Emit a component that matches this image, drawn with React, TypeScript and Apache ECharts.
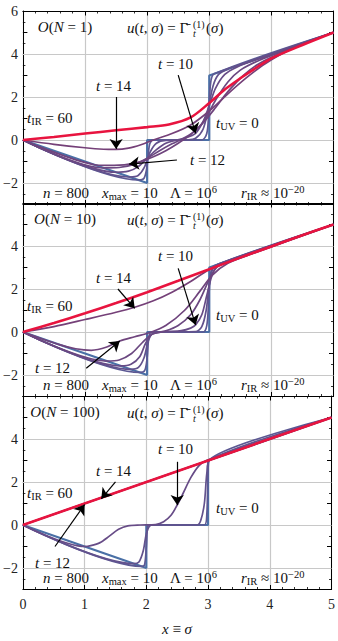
import React, { useEffect, useRef } from 'react';
import * as echarts from 'echarts';

// ---------------- data ----------------
const xMin = 0, xMax = 5, yMin = -3, yMax = 6;
const yGridValues = [-2, 0, 2, 4];
const panelN = ['1', '10', '100'];
const curveTimes = [0, 8, 9, 10, 11, 12, 14, 60];

// O(N=1)
const p1_t0 = [[0, 0], [2, -2], [2, 0], [3, 0], [3, 3], [5, 5]];
const p1_t8 = [[0, 0], [1.86, -1.86], [1.95, -1.78], [2.0, -1.2], [2.04, -0.2], [2.1, 0], [2.88, 0], [2.96, 0.3], [2.99, 1.2], [3.02, 2.6], [3.08, 3.08], [5, 5]];
const p1_t9 = [[0, 0], [1.72, -1.72], [1.85, -1.66], [1.95, -1.3], [2.05, -0.55], [2.15, -0.15], [2.3, -0.02], [2.65, 0], [2.78, 0.08], [2.9, 0.5], [2.98, 1.4], [3.06, 2.5], [3.15, 3.05], [3.3, 3.3], [3.6, 3.6], [5, 5]];
const p1_t10 = [[0, 0], [1.5, -1.5], [1.7, -1.45], [1.85, -1.25], [2.0, -0.85], [2.15, -0.45], [2.3, -0.15], [2.45, -0.02], [2.6, 0.08], [2.78, 0.31], [2.9, 0.85], [3.0, 1.6], [3.1, 2.4], [3.25, 3.05], [3.45, 3.4], [3.8, 3.78], [5, 5]];
const p1_t11 = [[0, 0], [1.3, -1.3], [1.55, -1.28], [1.8, -1.12], [2.0, -0.85], [2.2, -0.5], [2.4, -0.18], [2.6, 0.1], [2.8, 0.5], [2.95, 1.05], [3.1, 1.85], [3.3, 2.7], [3.5, 3.25], [3.8, 3.7], [4.2, 4.15], [5, 5]];
const p1_t12 = [[0, 0], [1.15, -1.15], [1.35, -1.18], [1.55, -1.17], [1.71, -1.12], [1.9, -1.0], [2.1, -0.78], [2.3, -0.5], [2.5, -0.15], [2.7, 0.25], [2.9, 0.8], [3.1, 1.5], [3.3, 2.25], [3.55, 3.0], [3.8, 3.55], [4.2, 4.1], [5, 5]];
const p1_t14 = [[0, 0], [0.5, -0.2], [1, -0.36], [1.3, -0.43], [1.5, -0.44], [1.7, -0.38], [1.9, -0.22], [2.1, 0.0], [2.4, 0.3], [2.7, 0.7], [3.0, 1.35], [3.3, 2.15], [3.6, 2.9], [3.9, 3.55], [4.3, 4.2], [5, 5]];
const p1_t60 = [[0, 0], [0.5, 0.14], [1, 0.3], [1.5, 0.45], [2, 0.6], [2.35, 0.72], [2.7, 1.05], [3, 1.72], [3.25, 2.35], [3.5, 2.87], [3.75, 3.35], [4, 3.8], [4.5, 4.42], [5, 5]];

// O(N=10)
const p2_t0 = [[0, 0], [2, -2], [2, 0], [3, 0], [3, 3], [5, 5]];
const p2_t8 = [[0, 0], [1.88, -1.88], [1.96, -1.8], [2.0, -1.2], [2.03, -0.2], [2.08, 0], [2.9, 0], [2.96, 0.3], [2.99, 1.4], [3.02, 2.7], [3.08, 3.08], [5, 5]];
const p2_t9 = [[0, 0], [1.74, -1.74], [1.86, -1.65], [1.95, -1.2], [2.02, -0.4], [2.1, -0.05], [2.25, 0], [2.78, 0.02], [2.88, 0.25], [2.95, 1.0], [3.0, 2.2], [3.06, 2.95], [3.2, 3.22], [5, 5]];
const p2_t10 = [[0, 0], [1.58, -1.58], [1.74, -1.5], [1.88, -1.15], [1.98, -0.5], [2.08, -0.1], [2.25, 0], [2.55, 0.06], [2.7, 0.18], [2.78, 0.33], [2.88, 0.8], [2.96, 1.7], [3.04, 2.6], [3.12, 3.05], [3.3, 3.3], [5, 5]];
const p2_t11 = [[0, 0], [1.35, -1.35], [1.55, -1.3], [1.75, -1.0], [1.92, -0.5], [2.08, -0.1], [2.3, 0.05], [2.5, 0.3], [2.7, 0.8], [2.85, 1.5], [3.0, 2.45], [3.12, 3.0], [3.3, 3.3], [5, 5]];
const p2_t12 = [[0, 0], [0.6, -0.6], [0.85, -0.78], [1.1, -0.85], [1.35, -0.7], [1.56, -0.42], [1.8, -0.22], [2.05, -0.02], [2.3, 0.3], [2.6, 1.0], [2.85, 1.9], [3.05, 2.65], [3.3, 3.2], [3.7, 3.65], [5, 5]];
const p2_t14 = [[0, 0], [0.5, 0.25], [1, 0.58], [1.5, 0.92], [1.8, 1.15], [2.1, 1.45], [2.4, 1.85], [2.7, 2.35], [3.0, 2.9], [3.5, 3.45], [4, 3.97], [5, 5]];
const p2_t60 = [[0, 0], [0.5, 0.42], [1, 0.87], [1.5, 1.35], [2, 1.85], [2.5, 2.38], [3, 2.92], [3.5, 3.46], [4, 3.98], [4.5, 4.5], [5, 5]];

// O(N=100)
const p3_t0 = [[0, 0], [2, -2], [2, 0], [3, 0], [3, 3], [5, 5]];
const p3_t8 = [[0, 0], [1.92, -1.92], [1.97, -1.86], [2.0, -1.0], [2.02, -0.1], [2.05, 0], [2.94, 0], [2.98, 0.5], [3.0, 2.5], [3.02, 3.02], [5, 5]];
const p3_t9 = [[0, 0], [1.8, -1.8], [1.88, -1.72], [1.95, -1.2], [2.0, -0.4], [2.05, -0.05], [2.12, 0], [2.82, 0], [2.88, 0.2], [2.94, 1.0], [2.98, 2.4], [3.03, 3.03], [5, 5]];
const p3_t10 = [[0, 0], [1.0, -1.0], [1.1, -0.96], [1.25, -0.82], [1.4, -0.52], [1.55, -0.2], [1.7, -0.04], [1.9, 0], [2.15, 0.02], [2.28, 0.15], [2.4, 0.45], [2.5, 0.93], [2.6, 1.5], [2.72, 2.2], [2.85, 2.75], [2.97, 3.0], [5, 5]];
const p3_t12 = [[0, 0], [5, 5]];
const p3_t14 = [[0, 0], [5, 5]];
const p3_t60 = [[0, 0], [5, 5]];

const panels = [
  [p1_t0, p1_t8, p1_t9, p1_t10, p1_t11, p1_t12, p1_t14, p1_t60],
  [p2_t0, p2_t8, p2_t9, p2_t10, p2_t11, p2_t12, p2_t14, p2_t60],
  [p3_t0, p3_t8, p3_t9, p3_t10, null, p3_t12, p3_t14, p3_t60],
];

// arrows: [from, to] in data coordinates (t = 14, t = 10, t = 12)
const arrows = [
  [[[1.5, 2.0], [1.5, -0.42]], [[2.5, 3.02], [2.78, 0.31]], [[2.48, -0.93], [1.71, -1.12]]],
  [[[1.53, 2.0], [1.8, 1.1]], [[2.5, 2.96], [2.78, 0.33]], [[1.02, -1.69], [1.56, -0.42]]],
  [[[1.5, 2.01], [1.27, 1.22]], [[2.5, 2.94], [2.5, 0.93]], [[0.52, -1.0], [1.0, 0.95]]],
];

const tIRy = [118, 114, 108];
const t12pos = [[190, 160], [35, 176], [35, 178]];

// ---------------- styles ----------------
const curveColors = ['#4a70a6', '#5c5893', '#62528d', '#674c87', '#6b4881', '#6f447d', '#754078', '#e8143f'];
const curveWidths = [2.2, 1.7, 1.7, 1.7, 1.7, 1.7, 1.7, 2.6];
const FONT = 'Liberation Serif';
const TXT = '#111';
const grids = [
  { left: 21, top: 11, width: 312.5, height: 193.5 },
  { left: 21, top: 203, width: 312.5, height: 193.5 },
  { left: 21, top: 396, width: 312.5, height: 193.5 },
];
const offsets = [0, 192, 385];

const RICH: any = {
  i: { fontFamily: FONT, fontStyle: 'italic', fontSize: 15, lineHeight: 18, fill: TXT },
  r: { fontFamily: FONT, fontSize: 15, lineHeight: 18, fill: TXT },
  sub: { fontFamily: FONT, fontSize: 10.5, lineHeight: 8, verticalAlign: 'bottom', fill: TXT },
  sup: { fontFamily: FONT, fontSize: 10.5, lineHeight: 8, verticalAlign: 'top', fill: TXT },
  s: { fontFamily: FONT, fontSize: 10, lineHeight: 9.5, fill: TXT },
  si: { fontFamily: FONT, fontStyle: 'italic', fontSize: 10, lineHeight: 9.5, fill: TXT },
};

function txt(x: number, y: number, text: string, align = 'left') {
  return {
    type: 'text', x, y, silent: true, z: 50,
    style: {
      text, fill: TXT, fontFamily: FONT, fontSize: 15,
      align, textAlign: align, verticalAlign: 'middle', textVerticalAlign: 'middle',
      rich: RICH,
    },
  };
}

function buildOption() {
  const axisCommon = {
    axisLine: { show: true, onZero: false, lineStyle: { color: '#000', width: 1 } },
    axisTick: { show: true, inside: true, length: 4.5, lineStyle: { color: '#000', width: 1 } },
    minorTick: { show: true, length: 2.5, lineStyle: { color: '#000', width: 0.8 } },
  };
  const xAxis: any[] = [];
  const yAxis: any[] = [];
  for (const pos of ['bottom', 'top']) {
    for (let p = 0; p < 3; p++) {
      xAxis.push({
        ...axisCommon,
        type: 'value', gridIndex: p, position: pos, min: xMin, max: xMax, interval: 1,
        minorTick: { ...axisCommon.minorTick, splitNumber: 5 },
        splitLine: { show: pos === 'bottom', lineStyle: { color: '#c8c8c8', width: 1.2 } },
        axisLabel: {
          show: pos === 'bottom' && p === 2, margin: 8, color: '#222', fontFamily: FONT, fontSize: 14,
        },
      });
    }
  }
  for (const pos of ['left', 'right']) {
    for (let p = 0; p < 3; p++) {
      yAxis.push({
        ...axisCommon,
        type: 'value', gridIndex: p, position: pos, min: yMin, max: yMax, interval: 1,
        minorTick: { ...axisCommon.minorTick, splitNumber: 2 },
        splitLine: { show: false },
        axisLabel: {
          show: pos === 'left', margin: 5, color: '#222', fontFamily: FONT, fontSize: 14,
          formatter: (v: number) => {
            if (Math.abs(v % 2) > 1e-9) return '';
            if (v === 6 && p > 0) return '';
            return v < 0 ? '\u2212' + Math.abs(v) : String(v);
          },
        },
      });
    }
  }

  const series: any[] = [];
  panels.forEach((curves, p) => {
    curves.forEach((data, k) => {
      if (!data) return;
      const s: any = {
        type: 'line', name: `N${panelN[p]}_t${curveTimes[k]}`,
        xAxisIndex: p, yAxisIndex: p, data,
        showSymbol: false, symbol: 'none', silent: true,
        smooth: k === 0 || (p === 2 && k >= 5) ? false : 0.3,
        z: 2 + k * 0.1,
        lineStyle: { color: curveColors[k], width: curveWidths[k] },
      };
      if (k === 0) {
        s.markLine = {
          silent: true, symbol: ['none', 'none'], z: 1, label: { show: false },
          lineStyle: { color: '#c8c8c8', width: 1.2, type: 'solid' },
          data: yGridValues.map((v) => ({ yAxis: v })),
        };
      }
      if (k === curves.length - 1) {
        s.markLine = {
          silent: true, symbol: ['none', 'arrow'], symbolSize: 10, z: 20,
          label: { show: false },
          lineStyle: { color: '#000', width: 1.2, type: 'solid' },
          itemStyle: { color: '#000' },
          data: arrows[p].map(([a, b]) => [{ coord: a }, { coord: b }]),
        };
      }
      series.push(s);
    });
  });

  const graphic: any[] = [];
  for (let p = 0; p < 3; p++) {
    const o = offsets[p];
    graphic.push(txt(65, 27 + o, `{i|O}{r|(}{i|N}{r| = ${panelN[p]})}`, 'center'));
    graphic.push(txt(127, 28 + o, '{i|u}{r|(}{i|t}{r|, }{i|\u03c3}{r|) = \u0393\u0304}'));
    graphic.push(txt(193, 29 + o, '{s|(1)}\n{si|t}'));
    graphic.push(txt(206, 28 + o, '{r|(}{i|\u03c3}{r|)}'));
    graphic.push(txt(158, 63.5 + o, '{i|t}{r| = 10}'));
    graphic.push(txt(96, 85.5 + o, '{i|t}{r| = 14}'));
    graphic.push(txt(27, tIRy[p] + o, '{i|t}{sub|IR}{r| = 60}'));
    graphic.push(txt(216, 123 + o, '{i|t}{sub|UV}{r| = 0}'));
    graphic.push(txt(t12pos[p][0], t12pos[p][1] + o, '{i|t}{r| = 12}'));
    graphic.push(txt(43, 193 + o, '{i|n}{r| = 800}'));
    graphic.push(txt(102, 193 + o, '{i|x}{sub|max}{r| = 10}'));
    graphic.push(txt(170, 193 + o, '{r|\u039b = 10}{sup|6}'));
    graphic.push(txt(241, 193 + o, '{i|r}{sub|IR}{r| \u2248 10}{sup|\u221220}'));
  }
  graphic.push(txt(177, 629, '{i|x}{r| \u2261 }{i|\u03c3}', 'center'));

  return {
    animation: false,
    backgroundColor: '#fff',
    grid: grids,
    xAxis,
    yAxis,
    series,
    graphic,
  };
}

export default function App() {
  const ref = useRef<HTMLDivElement>(null);
  useEffect(() => {
    document.body.style.margin = '0';
    if (!ref.current) return;
    const chart = echarts.init(ref.current, undefined, { renderer: 'svg' });
    chart.setOption(buildOption() as any);
    return () => chart.dispose();
  }, []);
  return <div ref={ref} style={{ position: 'absolute', left: 0, top: 0, width: 338, height: 641 }} />;
}
